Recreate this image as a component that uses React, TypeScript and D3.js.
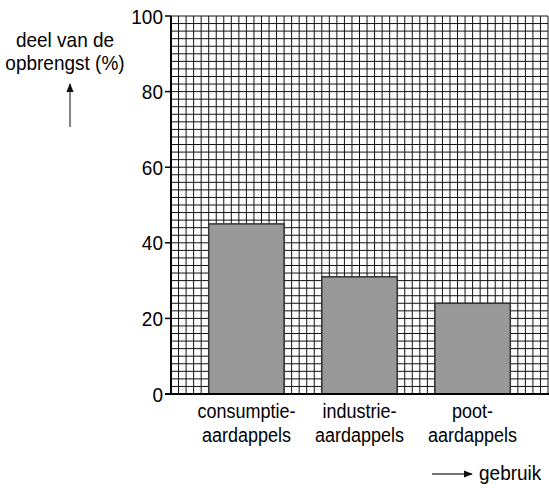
import React from "react";
import * as d3 from "d3";

const categories = ["consumptie-|aardappels", "industrie-|aardappels", "poot-|aardappels"];
const shares = [45, 31, 24];
const yTicks = [0, 20, 40, 60, 80, 100];

const W = 549;
const H = 488;
const left = 171;
const right = 548;
const top = 16;
const bottom = 394;
const font = "'Liberation Sans', Arial, sans-serif";

// slightly tall lettering, like the original print
const Tall = ({ x, y, anchor = "start", size = 19, children }: any) => (
  <g transform={`translate(${x},${y}) scale(1,1.1)`}>
    <text textAnchor={anchor} fontFamily={font} fontSize={size} fill="#000">
      {children}
    </text>
  </g>
);

const App = () => {
  const y = d3.scaleLinear().domain([0, 100]).range([bottom, top]);
  const x = d3
    .scaleBand()
    .domain(categories)
    .range([left, right])
    .paddingInner(1 / 3)
    .paddingOuter(1 / 3);
  // grid: one cell per 2 %
  const cells = d3.scaleLinear().domain([0, 50]).range([left, right]);
  const gridV = d3.range(0, 51);
  const gridH = d3.range(0, 101, 2);

  return (
    <svg width={W} height={H} style={{ position: "absolute", left: 0, top: 0 }}>
      <defs>
        <marker id="ah" viewBox="0 0 10 10" refX="9" refY="5" markerWidth="7" markerHeight="7" orient="auto">
          <path d="M0,1 L10,5 L0,9 Z" fill="#111" />
        </marker>
      </defs>
      <rect width={W} height={H} fill="#fff" />
      <g stroke="#111" strokeWidth={1}>
        {gridV.map((c) => (
          <line key={"v" + c} x1={cells(c)} x2={cells(c)} y1={top} y2={bottom} />
        ))}
        {gridH.map((v) => (
          <line key={"h" + v} x1={left} x2={right} y1={y(v)} y2={y(v)} />
        ))}
      </g>
      {categories.map((c, i) => (
        <rect
          key={c}
          x={x(c)}
          y={y(shares[i])}
          width={x.bandwidth()}
          height={y(0) - y(shares[i])}
          fill="#999"
          stroke="#333"
          strokeWidth={1.5}
        />
      ))}
      <line x1={left} x2={left} y1={top} y2={bottom + 1} stroke="#000" strokeWidth={2} />
      <line x1={left - 6} x2={right + 1} y1={bottom} y2={bottom} stroke="#000" strokeWidth={2} />
      {yTicks.map((t) => (
        <g key={t}>
          <line x1={left - 6} x2={left} y1={y(t)} y2={y(t)} stroke="#000" strokeWidth={1.5} />
          <Tall x={left - 8} y={y(t) + 7.5} anchor="end" size={19}>
            {t}
          </Tall>
        </g>
      ))}
      {categories.map((c) => {
        const cx = (x(c) as number) + x.bandwidth() / 2;
        const [a, b] = c.split("|");
        return (
          <g key={c}>
            <Tall x={cx} y={418} anchor="middle" size={18}>{a}</Tall>
            <Tall x={cx} y={442} anchor="middle" size={18}>{b}</Tall>
          </g>
        );
      })}
      <Tall x={65} y={47} anchor="middle">deel van de</Tall>
      <Tall x={65} y={70} anchor="middle">opbrengst (%)</Tall>
      <line x1={70} x2={70} y1={127} y2={84} stroke="#444" strokeWidth={1.3} markerEnd="url(#ah)" />
      <line x1={432} x2={472} y1={474} y2={474} stroke="#444" strokeWidth={1.3} markerEnd="url(#ah)" />
      <Tall x={479} y={480}>gebruik</Tall>
    </svg>
  );
};

export default App;
